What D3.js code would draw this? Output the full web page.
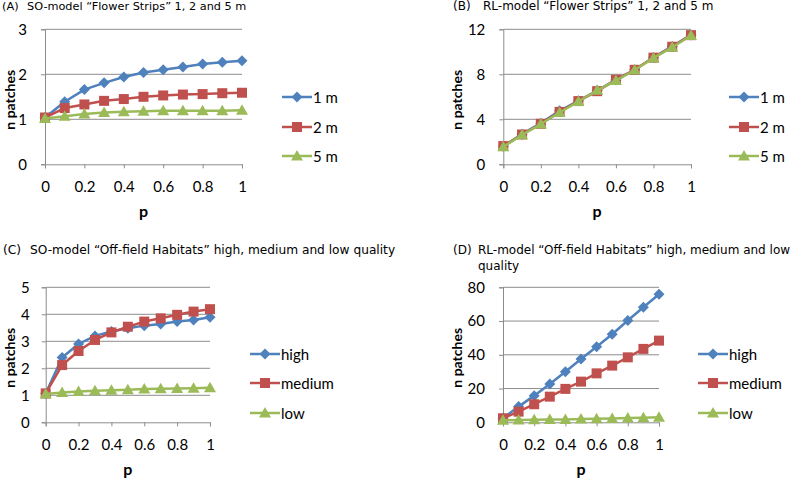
<!DOCTYPE html>
<html>
<head>
<meta charset="utf-8">
<script src="https://cdn.jsdelivr.net/npm/d3@7"></script>
<style>
  html, body { margin: 0; padding: 0; background: #fff; }
  svg { display: block; }
</style>
</head>
<body>
<svg id="chart" width="800" height="478"></svg>
<script>
// ---- data ----
const pValues = [0, 0.1, 0.2, 0.3, 0.4, 0.5, 0.6, 0.7, 0.8, 0.9, 1];
const xTicks = [0, 0.2, 0.4, 0.6, 0.8, 1];

const namesStrips = ["1 m", "2 m", "5 m"];
const namesHabitats = ["high", "medium", "low"];

// (A) SO-model Flower Strips
const soStrips1m = [1.04, 1.39, 1.66, 1.81, 1.94, 2.04, 2.10, 2.16, 2.23, 2.27, 2.30];
const soStrips2m = [1.04, 1.25, 1.33, 1.41, 1.45, 1.50, 1.53, 1.55, 1.56, 1.58, 1.59];
const soStrips5m = [1.02, 1.07, 1.12, 1.15, 1.17, 1.18, 1.19, 1.19, 1.19, 1.19, 1.20];

// (B) RL-model Flower Strips
const rlStrips1m = [1.60, 2.68, 3.66, 4.75, 5.65, 6.55, 7.50, 8.40, 9.50, 10.48, 11.50];
const rlStrips2m = [1.62, 2.65, 3.60, 4.66, 5.62, 6.50, 7.52, 8.40, 9.48, 10.45, 11.48];
const rlStrips5m = [1.55, 2.62, 3.58, 4.60, 5.58, 6.58, 7.44, 8.38, 9.46, 10.40, 11.45];

// (C) SO-model Off-field Habitats
const soHabHigh = [1.07, 2.40, 2.90, 3.20, 3.36, 3.48, 3.58, 3.64, 3.73, 3.79, 3.89];
const soHabMedium = [1.07, 2.12, 2.64, 3.05, 3.33, 3.54, 3.73, 3.85, 3.98, 4.10, 4.19];
const soHabLow = [1.05, 1.10, 1.14, 1.17, 1.19, 1.21, 1.23, 1.24, 1.25, 1.26, 1.28];

// (D) RL-model Off-field Habitats
const rlHabHigh = [2.4, 9.3, 15.8, 22.7, 30.0, 37.5, 44.8, 52.2, 60.3, 68.2, 75.9];
const rlHabMedium = [2.4, 6.3, 10.7, 15.2, 19.8, 24.1, 29.0, 33.6, 38.5, 43.5, 48.4];
const rlHabLow = [1.2, 1.4, 1.5, 1.6, 1.7, 1.9, 2.1, 2.3, 2.5, 2.7, 3.0];

const yTicksA = [0, 1, 2, 3];
const yTicksB = [0, 4, 8, 12];
const yTicksC = [0, 1, 2, 3, 4, 5];
const yTicksD = [0, 20, 40, 60, 80];

const colors = ["#4F81BD", "#C0504D", "#9BBB59"];
const markers = ["diamond", "square", "triangle"];

const svg = d3.select("#chart");
const tickFont = "Lato, 'Open Sans', sans-serif";
const titleFont = "'DejaVu Sans', Verdana, sans-serif";

function markerPath(type) {
  if (type === "diamond") return "M0,-5.5L5.5,0L0,5.5L-5.5,0Z";
  if (type === "square") return "M-5,-5H5V5H-5Z";
  return "M0,-6L6,4.5H-6Z";
}

function drawPanel(cfg) {
  const x = d3.scaleLinear().domain([0, 1]).range([cfg.x0, cfg.x1]);
  const y = d3.scaleLinear().domain([0, cfg.yMax]).range([cfg.yB, cfg.yT]);
  const g = svg.append("g");

  // gridlines
  g.append("g").selectAll("line").data(cfg.yTicks.filter(d => d !== 0)).join("line")
    .attr("x1", cfg.x0).attr("x2", cfg.x1)
    .attr("y1", d => y(d)).attr("y2", d => y(d))
    .attr("stroke", "#8c8c8c").attr("stroke-width", 1);

  // y axis
  const yAxis = g.append("g").attr("transform", `translate(${cfg.x0},0)`)
    .call(d3.axisLeft(y).tickValues(cfg.yTicks).tickSize(4).tickPadding(cfg.yPad).tickFormat(d3.format("d")));
  yAxis.select(".domain").attr("stroke", "#8c8c8c");
  yAxis.selectAll(".tick line").attr("stroke", "#8c8c8c");
  yAxis.selectAll("text").attr("font-family", tickFont).attr("font-size", 15).attr("fill", "#000");

  // x axis
  const xAxis = g.append("g").attr("transform", `translate(0,${cfg.yB})`)
    .call(d3.axisBottom(x).tickValues(xTicks).tickSize(4).tickPadding(13).tickFormat(d => d === 0 ? "0" : d === 1 ? "1" : d3.format(".1f")(d)));
  xAxis.select(".domain").attr("stroke", "#8c8c8c");
  xAxis.selectAll(".tick line").attr("stroke", "#8c8c8c");
  xAxis.selectAll("text").attr("font-family", tickFont).attr("font-size", 15).attr("fill", "#000");

  // series
  const line = d3.line().x((d, i) => x(pValues[i])).y(d => y(d));
  cfg.series.forEach((vals, si) => {
    g.append("path").datum(vals).attr("d", line)
      .attr("fill", "none").attr("stroke", colors[si]).attr("stroke-width", 2.5)
      .attr("stroke-linejoin", "round");
    g.append("g").selectAll("path").data(vals).join("path")
      .attr("d", markerPath(markers[si]))
      .attr("transform", (d, i) => `translate(${x(pValues[i])},${y(d)})`)
      .attr("fill", colors[si]);
  });

  // axis titles
  g.append("text").attr("transform", `translate(${cfg.ylabX},${(cfg.yT + cfg.yB) / 2 + 3}) rotate(-90)`)
    .attr("text-anchor", "middle").attr("dominant-baseline", "middle")
    .attr("font-family", tickFont).attr("font-weight", "bold").attr("font-size", 14)
    .text("n patches");
  g.append("text").attr("x", (cfg.x0 + cfg.x1) / 2).attr("y", cfg.yB + 53)
    .attr("text-anchor", "middle")
    .attr("font-family", tickFont).attr("font-weight", "bold").attr("font-size", 16)
    .text("p");

  // legend
  cfg.names.forEach((name, si) => {
    const ly = cfg.legY[si];
    g.append("line").attr("x1", cfg.legX).attr("x2", cfg.legX + 30)
      .attr("y1", ly).attr("y2", ly).attr("stroke", colors[si]).attr("stroke-width", 2.5);
    g.append("path").attr("d", markerPath(markers[si]))
      .attr("transform", `translate(${cfg.legX + 15},${ly})`).attr("fill", colors[si]);
    g.append("text").attr("x", cfg.legX + 31).attr("y", ly + 5.5)
      .attr("font-family", tickFont).attr("font-size", 15).attr("fill", "#000").text(name);
  });

  // title
  cfg.title.forEach((t, i) => {
    const tt = g.append("text").attr("y", cfg.titleY + i * 15.5)
      .attr("font-family", titleFont).attr("font-size", cfg.titleSize).attr("fill", "#000");
    if (t.label) {
      tt.append("tspan").attr("x", cfg.titleX).text(t.label);
    }
    tt.append("tspan").attr("x", cfg.titleX + cfg.tab).text(t.text);
  });
}

drawPanel({
  x0: 45, x1: 242, yT: 29.3, yB: 164.3, yMax: 3, yTicks: yTicksA, yPad: 14,
  series: [soStrips1m, soStrips2m, soStrips5m], names: namesStrips,
  legX: 282, legY: [97, 127, 156], ylabX: 11,
  title: [{label: "(A)", text: "SO-model “Flower Strips” 1, 2 and 5 m"}],
  titleX: 2, tab: 25, titleY: 10, titleSize: 11.3
});
drawPanel({
  x0: 503.3, x1: 691, yT: 29.3, yB: 164.3, yMax: 12, yTicks: yTicksB, yPad: 14,
  series: [rlStrips1m, rlStrips2m, rlStrips5m], names: namesStrips,
  legX: 729, legY: [97, 127, 156], ylabX: 458,
  title: [{label: "(B)", text: "RL-model “Flower Strips” 1, 2 and 5 m"}],
  titleX: 453, tab: 30, titleY: 10, titleSize: 12
});
drawPanel({
  x0: 45.7, x1: 210, yT: 287.3, yB: 422.3, yMax: 5, yTicks: yTicksC, yPad: 12,
  series: [soHabHigh, soHabMedium, soHabLow], names: namesHabitats,
  legX: 250, legY: [354, 383, 413], ylabX: 11,
  title: [{label: "(C)", text: "SO-model “Off-field Habitats” high, medium and low quality"}],
  titleX: 3, tab: 27, titleY: 254, titleSize: 12.2
});
drawPanel({
  x0: 503, x1: 659, yT: 287.3, yB: 422.3, yMax: 80, yTicks: yTicksD, yPad: 14,
  series: [rlHabHigh, rlHabMedium, rlHabLow], names: namesHabitats,
  legX: 698, legY: [354, 383, 413], ylabX: 458,
  title: [{label: "(D)", text: "RL-model “Off-field Habitats” high, medium and low"}, {text: "quality"}],
  titleX: 453, tab: 25, titleY: 254, titleSize: 12
});
</script>
</body>
</html>
